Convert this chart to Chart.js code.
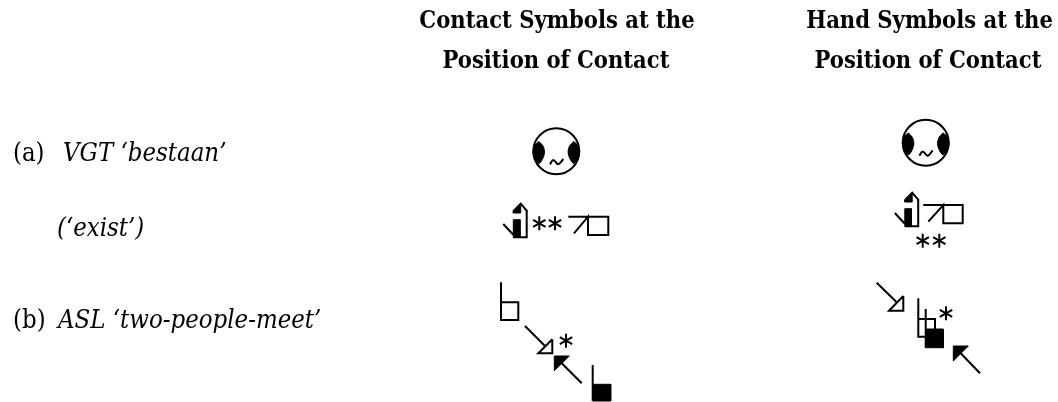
<!DOCTYPE html>
<html>
<head>
<meta charset="utf-8">
<style>
  html, body { margin: 0; padding: 0; background: #fff; }
  canvas { display: block; }
</style>
<script src="https://cdn.jsdelivr.net/npm/chart.js@4"></script>
</head>
<body>
<canvas id="signChart" width="1058" height="402"></canvas>
<script>
// Column headers and row labels
const headerLines = ['Contact Symbols at the', 'Position of Contact', 'Hand Symbols at the', 'Position of Contact'];
const headerX = [557, 556, 929.5, 928];
const headerY = [28, 68, 28, 68];
const rowPrefix = ['(a)', '', '(b)'];
const rowText = ['VGT ‘bestaan’', '(‘exist’)', 'ASL ‘two-people-meet’'];
const rowPrefixX = [13, 13, 13];
const rowTextX = [63, 57, 58];
const rowY = [161, 236, 328];

// Faces (circle centres), same drawing in both columns
const faceCentres = [[556.3, 151.3], [925.7, 142.7]];
const leftCheek = [[539, 141.5], [543, 146], [544.5, 152], [543, 158], [539, 163.5], [535, 159], [533, 152], [535, 145], [539, 141.5]];
const rightCheek = [[573.6, 141.5], [569.6, 146], [568.1, 152], [569.6, 158], [573.6, 163.5], [577.6, 159], [579.6, 152], [577.6, 145], [573.6, 141.5]];
const mouth = [[550, 164.3], [553.3, 160], [558.3, 164.3], [563.3, 159]];
const faceTwoShift = [369.4, -8.6];

// Row (a), second line: up arrow with hand flick
const arrowChevron = [[513.3, 211.3], [520.7, 203.7], [527.3, 211.3]];
const arrowCap = [[520.7, 204], [513.3, 211.3], [513.3, 213], [520.7, 213], [520.7, 204]];
const arrowBlock = [[513.3, 219.7], [520, 219.7], [520, 237.3], [513.3, 237.3], [513.3, 219.7]];
const arrowRight = [[526.7, 211], [526.7, 237.3], [513.3, 237.3]];
const arrowFlick = [[503.3, 224], [513.3, 234.7]];
const arrowTwoShift = [391.5, -11];

// Row (a), second line: open hand
const boxLeft = [[568.3, 216.7], [608.3, 216.7], [608.3, 235], [588, 235], [588, 216.7], [574, 233.3]];
const boxRight = [[923.3, 205], [962.7, 205], [962.7, 223.3], [943.3, 223.3], [943.3, 205], [928.3, 221.7]];

// Contact stars: three strokes around a centre
const starSpokes = [[[0, -7], [0, 7]], [[-6.2, -3.5], [6.2, 3.5]], [[-6.2, 3.5], [6.2, -3.5]]];
const starCentres = [[539.3, 223.3], [555, 223.3], [922.7, 240.7], [939.3, 240.7], [566, 340.7], [946, 313.3]];

// Row (b), contact column
const handOpenA = [[501, 282.3], [501, 320], [518.3, 320], [518.3, 302.3], [501, 302.3]];
const arrowOpenA = [[525, 326], [545, 346]];
const headOpenA = [[552.3, 339.3], [552.3, 353.3], [538.3, 353.3], [552.3, 339.3]];
const headFullA = [[554.3, 356], [569.3, 356], [554.3, 370.7], [554.3, 356]];
const arrowFullA = [[561.7, 363.3], [581.7, 383.3]];
const handFullStemA = [[592.7, 365], [592.7, 401]];
const handFullA = [[592.7, 384.3], [610.7, 384.3], [610.7, 401], [592.7, 401], [592.7, 384.3]];

// Row (b), hand column
const arrowOpenB = [[876.7, 282.7], [896.7, 302.3]];
const headOpenB = [[903.3, 296], [903.3, 310.7], [889, 310.7], [903.3, 296]];
const handOpenB = [[918.3, 298.3], [918.3, 336.7], [935, 336.7], [935, 319], [918.3, 319]];
const handFullStemB = [[925.7, 309], [925.7, 347.7]];
const handFullB = [[925.7, 329], [943.3, 329], [943.3, 347.7], [925.7, 347.7], [925.7, 329]];
const headFullB = [[953.3, 346], [968.3, 346], [953.3, 361], [953.3, 346]];
const arrowFullB = [[960.7, 353.3], [980, 373.3]];

const toPoints = (pts, shift = [0, 0]) => pts.map(p => ({ x: p[0] + shift[0], y: p[1] + shift[1] }));

// One scatter dataset per pen stroke
const stroke = (pts, shift, tension = 0) => ({
    data: toPoints(pts, shift),
    showLine: true,
    borderColor: '#000',
    borderWidth: 2,
    tension: tension,
    pointRadius: 0,
    fill: false
});
const solid = (pts, shift, tension = 0) => ({
    data: toPoints(pts, shift),
    showLine: true,
    borderColor: '#000',
    backgroundColor: '#000',
    borderWidth: 1,
    tension: tension,
    pointRadius: 0,
    fill: 'shape'
});

const datasets = [];

// Faces
datasets.push({
    data: toPoints(faceCentres),
    showLine: false,
    pointRadius: 23,
    pointBorderWidth: 2,
    pointBorderColor: '#000',
    pointBackgroundColor: 'rgba(0,0,0,0)'
});
[[0, 0], faceTwoShift].forEach(s => {
    datasets.push(solid(leftCheek, s, 0.3), solid(rightCheek, s, 0.3), stroke(mouth, s, 0.4));
});

// Up arrows
[[0, 0], arrowTwoShift].forEach(s => {
    datasets.push(stroke(arrowChevron, s), solid(arrowCap, s), solid(arrowBlock, s), stroke(arrowRight, s), stroke(arrowFlick, s));
});
datasets.push(stroke(boxLeft), stroke(boxRight));

// Stars
starCentres.forEach(c => starSpokes.forEach(spoke => datasets.push(stroke(spoke, c))));

// Row (b)
[handOpenA, arrowOpenA, headOpenA, arrowFullA, handFullStemA, arrowOpenB, headOpenB, handOpenB, handFullStemB, arrowFullB]
    .forEach(pts => datasets.push(stroke(pts)));
[headFullA, handFullA, handFullB, headFullB].forEach(pts => datasets.push(solid(pts)));

// Headers and row labels, placed through the chart's scales
const textPlugin = {
    id: 'textPlugin',
    afterDraw(chart) {
        const { ctx, scales: { x, y } } = chart;
        ctx.save();
        ctx.fillStyle = '#000';
        ctx.textBaseline = 'alphabetic';
        ctx.textAlign = 'center';
        ctx.font = 'bold 23.5px "DejaVu Serif Condensed", "DejaVu Serif"';
        headerLines.forEach((line, i) => {
            ctx.fillText(line, x.getPixelForValue(headerX[i]), y.getPixelForValue(headerY[i]));
        });
        ctx.textAlign = 'left';
        rowText.forEach((line, i) => {
            const py = y.getPixelForValue(rowY[i]);
            ctx.font = '25.5px "DejaVu Serif Condensed", "DejaVu Serif"';
            if (rowPrefix[i]) ctx.fillText(rowPrefix[i], x.getPixelForValue(rowPrefixX[i]), py);
            ctx.font = 'italic 25.5px "DejaVu Serif Condensed", "DejaVu Serif"';
            ctx.fillText(line, x.getPixelForValue(rowTextX[i]), py);
        });
        ctx.restore();
    }
};

const signChart = new Chart(document.getElementById('signChart').getContext('2d'), {
    type: 'scatter',
    data: { datasets: datasets },
    options: {
        responsive: false,
        animation: false,
        layout: { padding: 0, autoPadding: false },
        plugins: { legend: { display: false }, tooltip: { enabled: false } },
        scales: {
            x: { type: 'linear', min: 0, max: 1058, display: false },
            y: { type: 'linear', min: 0, max: 402, reverse: true, display: false }
        }
    },
    plugins: [textPlugin]
});
</script>
</body>
</html>
